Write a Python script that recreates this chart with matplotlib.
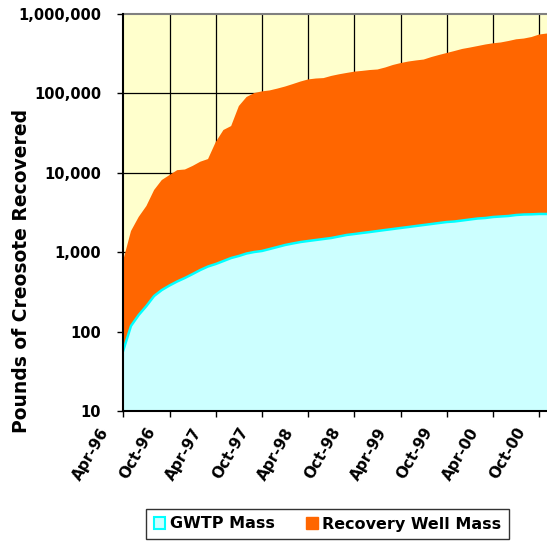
import matplotlib
matplotlib.use("Agg")
import matplotlib.pyplot as plt
from matplotlib.patches import Patch
from matplotlib.ticker import FixedLocator, FuncFormatter, NullLocator
import matplotlib.transforms as mtransforms
import numpy as np

# Monthly cumulative recovery (pounds of creosote)
months = list(range(56))
gwtp_mass = [58, 118, 162, 210, 281, 334, 381, 428, 474, 531,
             597, 661, 710, 774, 845, 896, 963, 1006, 1036, 1097,
             1162, 1232, 1288, 1343, 1384, 1425, 1467, 1510, 1578, 1649,
             1695, 1746, 1795, 1849, 1905, 1960, 2018, 2076, 2138, 2201,
             2266, 2334, 2400, 2437, 2508, 2582, 2656, 2697, 2775, 2817,
             2858, 2942, 2986, 3000, 3030, 3030]
recovery_well_mass = [740, 1730, 2620, 3610, 5790, 7780, 8990, 10370, 10530, 11670,
                      13200, 14240, 23690, 33830, 37960, 68400, 89140, 100000, 105000, 107900,
                      113800, 120800, 129700, 139700, 148600, 152600, 154500, 164500, 172400, 179400,
                      186300, 190300, 195200, 198200, 210100, 226000, 239000, 249900, 257900, 264800,
                      284700, 302700, 320600, 339600, 360500, 375400, 392300, 410300, 425200, 435200,
                      454100, 477100, 488000, 510000, 549000, 565000]
tick_months = [0, 6, 12, 18, 24, 30, 36, 42, 48, 54]
tick_labels = ["Apr-96", "Oct-96", "Apr-97", "Oct-97", "Apr-98",
               "Oct-98", "Apr-99", "Oct-99", "Apr-00", "Oct-00"]
y_ticks = [10, 100, 1000, 10000, 100000, 1000000]
series_names = ["GWTP Mass", "Recovery Well Mass"]

plt.rcParams["font.family"] = ["DejaVu Sans"]
plt.rcParams["font.weight"] = "bold"

W, H = 547, 542
fig = plt.figure(figsize=(W / 100, H / 100), dpi=100)
ax = fig.add_axes([123.3 / W, 1 - 411 / H, (547 - 123.3) / W, (411 - 14) / H])
ax.set_facecolor("#FFFFCC")

x = np.array(months)
gwtp = np.array(gwtp_mass, dtype=float)
total = gwtp + np.array(recovery_well_mass, dtype=float)
floor = y_ticks[0]

ax.fill_between(x, floor, gwtp, facecolor="#CCFFFF", edgecolor="none", zorder=2)
ax.fill_between(x, gwtp, total, facecolor="#FF6600", edgecolor="none", zorder=2)
ax.plot(x, gwtp, color="#00FFFF", lw=1.8, zorder=3)

ax.set_yscale("log")
ax.set_ylim(y_ticks[0], y_ticks[-1])
ax.set_xlim(months[0], months[-1])

ax.yaxis.set_major_locator(FixedLocator(y_ticks))
ax.yaxis.set_minor_locator(NullLocator())
ax.yaxis.set_major_formatter(FuncFormatter(lambda v, p: f"{int(round(v)):,}"))
ax.xaxis.set_major_locator(FixedLocator(tick_months))
ax.xaxis.set_minor_locator(NullLocator())
ax.set_xticklabels([])

# grid lines drawn beneath the areas
for t in y_ticks[1:-1]:
    ax.axhline(t, color="black", lw=0.9, zorder=1)
for t in tick_months[1:]:
    ax.axvline(t, color="black", lw=0.9, zorder=1)

ax.tick_params(axis="y", direction="out", length=4, width=1, pad=12,
               labelsize=10.5, colors="black")
ax.tick_params(axis="x", direction="out", length=4, width=1)
for lbl in ax.get_yticklabels():
    lbl.set_fontweight("bold")

for side in ["left", "bottom"]:
    ax.spines[side].set_color("black")
    ax.spines[side].set_linewidth(1.5)
    ax.spines[side].set_zorder(5)
ax.spines["top"].set_color("#808080")
ax.spines["top"].set_linewidth(1.5)
ax.spines["right"].set_visible(False)

# rotated date labels, ending just left of each tick
offset = mtransforms.ScaledTranslation(-24 / 100, -14 / 100, fig.dpi_scale_trans)
trans = mtransforms.blended_transform_factory(ax.transData, ax.transAxes) + offset
for m, lab in zip(tick_months, tick_labels):
    ax.text(m, 0, lab, transform=trans, rotation=60, ha="right", va="top",
            rotation_mode="anchor", fontsize=11, fontweight="bold", color="black")

fig.text(22 / W, 1 - 271 / H, "Pounds of Creosote Recovered", rotation=90,
         ha="center", va="center", fontsize=13.5, fontweight="bold")

handles = [Patch(facecolor="#CCFFFF", edgecolor="#00FFFF", linewidth=1.5),
           Patch(facecolor="#FF6600", edgecolor="#FF6600")]
leg = fig.legend(handles, series_names, loc="center",
                 bbox_to_anchor=(327.5 / W, 1 - 524 / H), ncol=2,
                 frameon=True, fancybox=False, edgecolor="black",
                 prop={"size": 11.5, "weight": "bold"},
                 handlelength=0.7, handleheight=0.7, handletextpad=0.3,
                 columnspacing=2.0, borderpad=0.45)
leg.get_frame().set_linewidth(1.0)

fig.savefig("out.png", dpi=100, facecolor="white")
